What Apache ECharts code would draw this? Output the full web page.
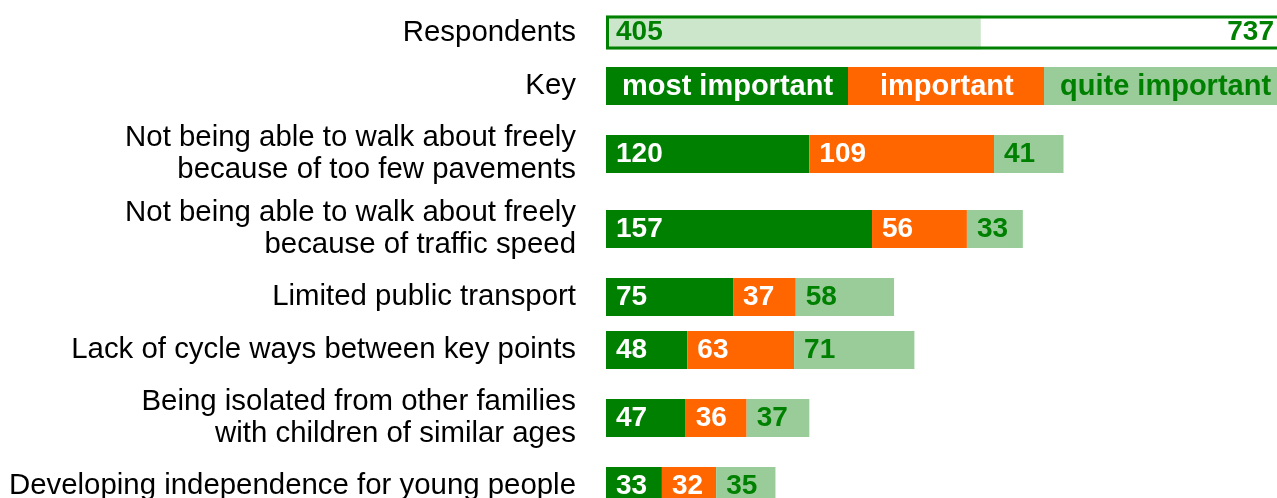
<!DOCTYPE html>
<html>
<head>
<meta charset="utf-8">
<script src="https://cdn.jsdelivr.net/npm/echarts@6/dist/echarts.min.js"></script>
<style>
html,body{margin:0;padding:0;background:#fff;}
#chart{width:1277px;height:498px;}
</style>
</head>
<body>
<div id="chart"></div>
<script>
// ---- data ----
const categories = [
  'Not being able to walk about freely\nbecause of too few pavements',
  'Not being able to walk about freely\nbecause of traffic speed',
  'Limited public transport',
  'Lack of cycle ways between key points',
  'Being isolated from other families\nwith children of similar ages',
  'Developing independence for young people'
];
const mostImportant = [120, 157, 75, 48, 47, 33];
const important = [109, 56, 37, 63, 36, 32];
const quiteImportant = [41, 33, 58, 71, 37, 35];
const respondents = 405;
const totalSurveyed = 737;
const keyLabels = ['most important', 'important', 'quite important'];

// ---- style / layout ----
const GREEN = '#008000', ORANGE = '#ff6600', LIGHT = '#99cc99', PALE = '#cce6cc';
const FONT = 'Liberation Sans';
const LEFT = 606;
const rowTops = [135, 210, 278, 331, 399, 467];
const labelShift = [-4, 3, 2, 1, 0, 0]; // vertical nudge of category text
const ROW_H = 38;
const X_MAX = 396;
const keyWidths = [242, 196, 260];

function yAx(gi, name, shift) {
  const pad = shift >= 0 ? [2 * shift, 0, 0, 0] : [0, 0, -2 * shift, 0];
  return {
    type: 'category', gridIndex: gi, data: [name],
    axisLine: {show: false}, axisTick: {show: false}, splitLine: {show: false},
    axisLabel: {fontFamily: FONT, fontSize: 29.4, color: '#000', margin: 30, lineHeight: 32,
      align: 'right', padding: pad}
  };
}
function xAx(gi, max) {
  return {type: 'value', gridIndex: gi, min: 0, max: max, show: false, splitLine: {show: false}};
}
function mkGrid(top, height, width) {
  return {left: LEFT, width: width, top: top, height: height, containLabel: false, outerBoundsMode: 'none'};
}

const grid = [mkGrid(15.5, 34, 682), mkGrid(67, ROW_H, 671)];
const xAxis = [xAx(0, totalSurveyed), xAx(1, X_MAX)];
const yAxis = [yAx(0, 'Respondents', 0), yAx(1, 'Key', 0)];
const series = [];

function barLabel(color, pos, dist) {
  return {
    show: true, position: pos || 'insideLeft', distance: dist || 10,
    color: color, fontFamily: FONT, fontWeight: 'bold', fontSize: 28
  };
}

// respondents row
series.push({
  type: 'bar', xAxisIndex: 0, yAxisIndex: 0, data: [respondents], barWidth: 34, barGap: '-100%',
  itemStyle: {color: PALE}, label: barLabel(GREEN), silent: true, z: 2
});
series.push({
  type: 'bar', xAxisIndex: 0, yAxisIndex: 0, data: [totalSurveyed], barWidth: 34, barGap: '-100%',
  itemStyle: {color: 'rgba(0,0,0,0)', borderColor: GREEN, borderWidth: 3},
  label: barLabel(GREEN, 'insideRight', 14), silent: true, z: 3
});
// key row placeholder series (keeps axis alive)
series.push({type: 'bar', xAxisIndex: 1, yAxisIndex: 1, data: [null], barWidth: ROW_H});

categories.forEach((c, i) => {
  const gi = i + 2;
  grid.push(mkGrid(rowTops[i], ROW_H, 671));
  xAxis.push(xAx(gi, X_MAX));
  yAxis.push(yAx(gi, c, labelShift[i]));
  [[mostImportant, GREEN, '#fff'], [important, ORANGE, '#fff'], [quiteImportant, LIGHT, GREEN]].forEach(([arr, col, tcol]) => {
    series.push({
      type: 'bar', xAxisIndex: gi, yAxisIndex: gi, stack: 'r' + i, data: [arr[i]], barWidth: ROW_H,
      itemStyle: {color: col}, label: barLabel(tcol), silent: true
    });
  });
});

// key (legend) blocks
const keyColors = [[GREEN, '#fff'], [ORANGE, '#fff'], [LIGHT, GREEN]];
const keyPad = [16, 32, 16];
const keyChildren = [];
let kx = LEFT;
keyLabels.forEach((t, i) => {
  keyChildren.push({type: 'rect', shape: {x: kx, y: 67, width: keyWidths[i], height: ROW_H}, style: {fill: keyColors[i][0]}});
  keyChildren.push({type: 'text', style: {text: t, x: kx + keyPad[i], y: 87, fill: keyColors[i][1],
    font: 'bold 29px "' + FONT + '"', align: 'left', verticalAlign: 'middle'}});
  kx += keyWidths[i];
});

const chart = echarts.init(document.getElementById('chart'), null, {renderer: 'canvas'});
chart.setOption({
  animation: false,
  backgroundColor: '#fff',
  grid: grid, xAxis: xAxis, yAxis: yAxis, series: series,
  graphic: [{type: 'group', children: keyChildren}]
});
</script>
</body>
</html>
